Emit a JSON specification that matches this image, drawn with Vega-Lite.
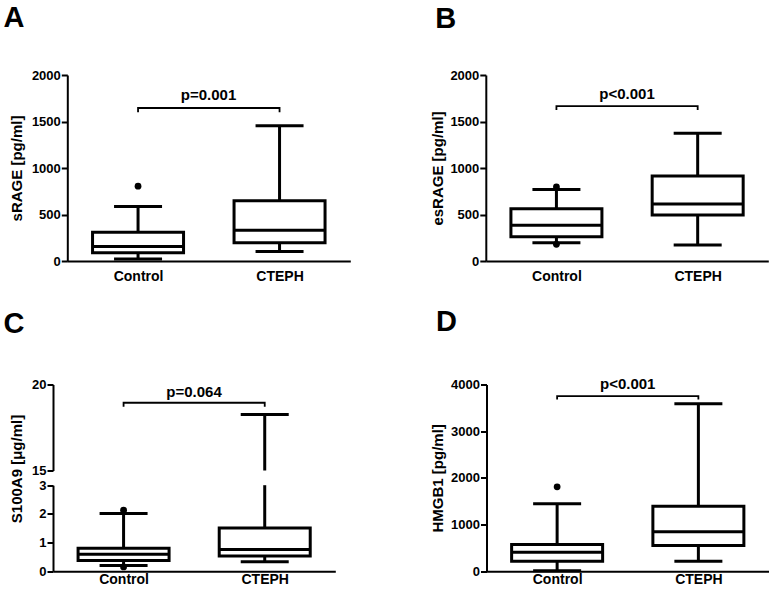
{
  "$schema": "https://vega.github.io/schema/vega-lite/v6.json",
  "padding": {"left": 3, "top": 4, "right": 0, "bottom": 0},
  "background": "white",
  "datasets": {
    "boxes": [
      {"panel": "A", "group": "Control", "lo": 21, "q1": 89, "med": 157, "q3": 310, "hi": 585},
      {"panel": "A", "group": "CTEPH", "lo": 102, "q1": 196, "med": 330, "q3": 648, "hi": 1455},
      {"panel": "B", "group": "Control", "lo": 196, "q1": 261, "med": 385, "q3": 561, "hi": 768},
      {"panel": "B", "group": "CTEPH", "lo": 171, "q1": 495, "med": 612, "q3": 913, "hi": 1373},
      {"panel": "C", "group": "Control", "lo": 0.2, "q1": 0.37, "med": 0.59, "q3": 0.8, "hi": 2.01},
      {"panel": "C", "group": "CTEPH", "lo": 0.33, "q1": 0.53, "med": 0.76, "q3": 1.51, "hi": 18.26},
      {"panel": "D", "group": "Control", "lo": 10, "q1": 214, "med": 407, "q3": 571, "hi": 1443},
      {"panel": "D", "group": "CTEPH", "lo": 214, "q1": 550, "med": 843, "q3": 1393, "hi": 3586}
    ],
    "whiskers": [
      {"panel": "A", "group": "Control", "from": 21, "to": 585},
      {"panel": "A", "group": "CTEPH", "from": 102, "to": 1455},
      {"panel": "B", "group": "Control", "from": 196, "to": 768},
      {"panel": "B", "group": "CTEPH", "from": 171, "to": 1373},
      {"panel": "C", "group": "Control", "from": 0.2, "to": 2.01},
      {"panel": "C", "group": "CTEPH", "from": 0.33, "to": 3},
      {"panel": "C", "group": "CTEPH", "from": 15, "to": 18.26},
      {"panel": "D", "group": "Control", "from": 10, "to": 1443},
      {"panel": "D", "group": "CTEPH", "from": 214, "to": 3586}
    ],
    "outliers": [
      {"panel": "A", "group": "Control", "value": 805},
      {"panel": "B", "group": "Control", "value": 796},
      {"panel": "B", "group": "Control", "value": 179},
      {"panel": "C", "group": "Control", "value": 2.13},
      {"panel": "C", "group": "Control", "value": 0.15},
      {"panel": "D", "group": "Control", "value": 1807}
    ],
    "brackets": [
      {"panel": "A", "group": "Control", "y": 1600, "ord": 1},
      {"panel": "A", "group": "Control", "y": 1645, "ord": 2},
      {"panel": "A", "group": "CTEPH", "y": 1645, "ord": 3},
      {"panel": "A", "group": "CTEPH", "y": 1600, "ord": 4},
      {"panel": "B", "group": "Control", "y": 1625, "ord": 1},
      {"panel": "B", "group": "Control", "y": 1665, "ord": 2},
      {"panel": "B", "group": "CTEPH", "y": 1665, "ord": 3},
      {"panel": "B", "group": "CTEPH", "y": 1625, "ord": 4},
      {"panel": "C", "group": "Control", "y": 18.7, "ord": 1},
      {"panel": "C", "group": "Control", "y": 18.94, "ord": 2},
      {"panel": "C", "group": "CTEPH", "y": 18.94, "ord": 3},
      {"panel": "C", "group": "CTEPH", "y": 18.7, "ord": 4},
      {"panel": "D", "group": "Control", "y": 3679, "ord": 1},
      {"panel": "D", "group": "Control", "y": 3750, "ord": 2},
      {"panel": "D", "group": "CTEPH", "y": 3750, "ord": 3},
      {"panel": "D", "group": "CTEPH", "y": 3679, "ord": 4}
    ],
    "ptext": [
      {"panel": "A", "group": "Control", "y": 1733, "label": "p=0.001"},
      {"panel": "B", "group": "Control", "y": 1740, "label": "p<0.001"},
      {"panel": "C", "group": "Control", "y": 19.3, "label": "p=0.064"},
      {"panel": "D", "group": "Control", "y": 3900, "label": "p<0.001"}
    ]
  },
  "columns": 1,
  "align": "none",
  "spacing": 24.5,
  "concat": [
    {
      "hconcat": [
        {"width": 1, "height": 1, "data": {"values": []}, "mark": {"type": "point", "opacity": 0}},
        {
          "hconcat": [
            {
              "width": 283, "height": 186,
              "title": {"text": "A", "anchor": "start", "frame": "group", "dx": -63.7, "offset": 13, "baseline": "alphabetic", "fontSize": 29, "fontWeight": "bold", "color": "black"},
              "encoding": {"x": {"field": "group", "type": "nominal", "sort": ["Control", "CTEPH"], "scale": {"type": "point", "padding": 0.5}, "axis": {"title": null, "labelPadding": 8}}},
              "layer": [
                {"data": {"name": "whiskers"}, "transform": [{"filter": "datum.panel == 'A'"}], "mark": {"type": "rule", "strokeWidth": 3, "color": "black"},
                 "encoding": {"y": {"field": "from", "type": "quantitative", "title": "sRAGE [pg/ml]", "scale": {"domain": [0, 2000], "nice": false}, "axis": {"values": [0, 500, 1000, 1500, 2000], "format": "d", "titleX": -46.3}}, "y2": {"field": "to"}}},
                {"data": {"name": "boxes"}, "transform": [{"filter": "datum.panel == 'A'"}], "mark": {"type": "bar", "width": 91, "fill": "white", "stroke": "black", "strokeWidth": 3},
                 "encoding": {"y": {"field": "q1", "type": "quantitative", "title": "sRAGE [pg/ml]"}, "y2": {"field": "q3"}}},
                {"data": {"name": "boxes"}, "transform": [{"filter": "datum.panel == 'A'"}], "mark": {"type": "tick", "size": 91, "thickness": 3, "color": "black", "opacity": 1},
                 "encoding": {"y": {"field": "med", "type": "quantitative", "title": "sRAGE [pg/ml]"}}},
                {"data": {"name": "boxes"}, "transform": [{"filter": "datum.panel == 'A'"}], "mark": {"type": "tick", "size": 48, "thickness": 3, "color": "black", "opacity": 1},
                 "encoding": {"y": {"field": "lo", "type": "quantitative", "title": "sRAGE [pg/ml]"}}},
                {"data": {"name": "boxes"}, "transform": [{"filter": "datum.panel == 'A'"}], "mark": {"type": "tick", "size": 48, "thickness": 3, "color": "black", "opacity": 1},
                 "encoding": {"y": {"field": "hi", "type": "quantitative", "title": "sRAGE [pg/ml]"}}},
                {"data": {"name": "outliers"}, "transform": [{"filter": "datum.panel == 'A'"}], "mark": {"type": "point", "filled": true, "size": 46, "color": "black", "opacity": 1},
                 "encoding": {"y": {"field": "value", "type": "quantitative", "title": "sRAGE [pg/ml]"}}},
                {"data": {"name": "brackets"}, "transform": [{"filter": "datum.panel == 'A'"}], "mark": {"type": "line", "strokeWidth": 1.8, "color": "black"},
                 "encoding": {"y": {"field": "y", "type": "quantitative", "title": "sRAGE [pg/ml]"}, "order": {"field": "ord", "type": "quantitative"}}},
                {"data": {"name": "ptext"}, "transform": [{"filter": "datum.panel == 'A'"}], "mark": {"type": "text", "dx": 70.5, "align": "center", "baseline": "alphabetic", "fontSize": 15, "fontWeight": "bold", "color": "black"},
                 "encoding": {"y": {"field": "y", "type": "quantitative", "title": "sRAGE [pg/ml]"}, "text": {"field": "label"}}}
              ]
            },
            {
              "width": 282.5, "height": 186,
              "title": {"text": "B", "anchor": "start", "frame": "group", "dx": -50.5, "offset": 12.3, "baseline": "alphabetic", "fontSize": 29, "fontWeight": "bold", "color": "black"},
              "encoding": {"x": {"field": "group", "type": "nominal", "sort": ["Control", "CTEPH"], "scale": {"type": "point", "padding": 0.5}, "axis": {"title": null, "labelPadding": 8}}},
              "layer": [
                {"data": {"name": "whiskers"}, "transform": [{"filter": "datum.panel == 'B'"}], "mark": {"type": "rule", "strokeWidth": 3, "color": "black"},
                 "encoding": {"y": {"field": "from", "type": "quantitative", "title": "esRAGE [pg/ml]", "scale": {"domain": [0, 2000], "nice": false}, "axis": {"values": [0, 500, 1000, 1500, 2000], "format": "d", "titleX": -43.2}}, "y2": {"field": "to"}}},
                {"data": {"name": "boxes"}, "transform": [{"filter": "datum.panel == 'B'"}], "mark": {"type": "bar", "width": 91, "fill": "white", "stroke": "black", "strokeWidth": 3},
                 "encoding": {"y": {"field": "q1", "type": "quantitative", "title": "esRAGE [pg/ml]"}, "y2": {"field": "q3"}}},
                {"data": {"name": "boxes"}, "transform": [{"filter": "datum.panel == 'B'"}], "mark": {"type": "tick", "size": 91, "thickness": 3, "color": "black", "opacity": 1},
                 "encoding": {"y": {"field": "med", "type": "quantitative", "title": "esRAGE [pg/ml]"}}},
                {"data": {"name": "boxes"}, "transform": [{"filter": "datum.panel == 'B'"}], "mark": {"type": "tick", "size": 48, "thickness": 3, "color": "black", "opacity": 1},
                 "encoding": {"y": {"field": "lo", "type": "quantitative", "title": "esRAGE [pg/ml]"}}},
                {"data": {"name": "boxes"}, "transform": [{"filter": "datum.panel == 'B'"}], "mark": {"type": "tick", "size": 48, "thickness": 3, "color": "black", "opacity": 1},
                 "encoding": {"y": {"field": "hi", "type": "quantitative", "title": "esRAGE [pg/ml]"}}},
                {"data": {"name": "outliers"}, "transform": [{"filter": "datum.panel == 'B'"}], "mark": {"type": "point", "filled": true, "size": 46, "color": "black", "opacity": 1},
                 "encoding": {"y": {"field": "value", "type": "quantitative", "title": "esRAGE [pg/ml]"}}},
                {"data": {"name": "brackets"}, "transform": [{"filter": "datum.panel == 'B'"}], "mark": {"type": "line", "strokeWidth": 1.8, "color": "black"},
                 "encoding": {"y": {"field": "y", "type": "quantitative", "title": "esRAGE [pg/ml]"}, "order": {"field": "ord", "type": "quantitative"}}},
                {"data": {"name": "ptext"}, "transform": [{"filter": "datum.panel == 'B'"}], "mark": {"type": "text", "dx": 70.6, "align": "center", "baseline": "alphabetic", "fontSize": 15, "fontWeight": "bold", "color": "black"},
                 "encoding": {"y": {"field": "y", "type": "quantitative", "title": "esRAGE [pg/ml]"}, "text": {"field": "label"}}}
              ]
            }
          ],
          "spacing": 135.5,
          "bounds": "flush"
        }
      ],
      "spacing": 13.3,
      "bounds": "flush"
    },
    {
      "hconcat": [
        {
          "width": 282.3, "height": 186.7,
          "title": {"text": "C", "anchor": "start", "frame": "group", "dx": -49.4, "offset": 16.7, "baseline": "alphabetic", "fontSize": 29, "fontWeight": "bold", "color": "black"},
          "encoding": {"x": {"field": "group", "type": "nominal", "sort": ["Control", "CTEPH"], "scale": {"type": "point", "padding": 0.5}, "axis": {"title": null, "labelPadding": 1}}},
          "layer": [
            {
              "layer": [
                {"data": {"name": "whiskers"}, "transform": [{"filter": "datum.panel == 'C' && datum.to <= 3"}], "mark": {"type": "rule", "strokeWidth": 3, "color": "black"},
                 "encoding": {"y": {"field": "from", "type": "quantitative", "title": "S100A9 [μg/ml]", "scale": {"domain": [0, 3], "range": [186.7, 100.7], "nice": false}, "axis": {"values": [0, 1, 2, 3], "format": "d", "titleX": -32, "titleY": 84}}, "y2": {"field": "to"}}},
                {"data": {"name": "boxes"}, "transform": [{"filter": "datum.panel == 'C'"}], "mark": {"type": "bar", "width": 91, "fill": "white", "stroke": "black", "strokeWidth": 3},
                 "encoding": {"y": {"field": "q1", "type": "quantitative", "title": "S100A9 [μg/ml]"}, "y2": {"field": "q3"}}},
                {"data": {"name": "boxes"}, "transform": [{"filter": "datum.panel == 'C'"}], "mark": {"type": "tick", "size": 91, "thickness": 3, "color": "black", "opacity": 1},
                 "encoding": {"y": {"field": "med", "type": "quantitative", "title": "S100A9 [μg/ml]"}}},
                {"data": {"name": "boxes"}, "transform": [{"filter": "datum.panel == 'C'"}], "mark": {"type": "tick", "size": 48, "thickness": 3, "color": "black", "opacity": 1},
                 "encoding": {"y": {"field": "lo", "type": "quantitative", "title": "S100A9 [μg/ml]"}}},
                {"data": {"name": "boxes"}, "transform": [{"filter": "datum.panel == 'C' && datum.hi <= 3"}], "mark": {"type": "tick", "size": 48, "thickness": 3, "color": "black", "opacity": 1},
                 "encoding": {"y": {"field": "hi", "type": "quantitative", "title": "S100A9 [μg/ml]"}}},
                {"data": {"name": "outliers"}, "transform": [{"filter": "datum.panel == 'C'"}], "mark": {"type": "point", "filled": true, "size": 46, "color": "black", "opacity": 1},
                 "encoding": {"y": {"field": "value", "type": "quantitative", "title": "S100A9 [μg/ml]"}}}
              ]
            },
            {
              "layer": [
                {"data": {"name": "whiskers"}, "transform": [{"filter": "datum.panel == 'C' && datum.from >= 15"}], "mark": {"type": "rule", "strokeWidth": 3, "color": "black"},
                 "encoding": {"y": {"field": "from", "type": "quantitative", "title": null, "scale": {"domain": [15, 20], "range": [86, 0], "nice": false}, "axis": {"orient": "left", "values": [15, 20], "format": "d", "title": null}}, "y2": {"field": "to"}}},
                {"data": {"name": "boxes"}, "transform": [{"filter": "datum.panel == 'C' && datum.hi >= 15"}], "mark": {"type": "tick", "size": 48, "thickness": 3, "color": "black", "opacity": 1},
                 "encoding": {"y": {"field": "hi", "type": "quantitative", "title": null}}},
                {"data": {"name": "brackets"}, "transform": [{"filter": "datum.panel == 'C'"}], "mark": {"type": "line", "strokeWidth": 1.8, "color": "black"},
                 "encoding": {"y": {"field": "y", "type": "quantitative", "title": null}, "order": {"field": "ord", "type": "quantitative"}}},
                {"data": {"name": "ptext"}, "transform": [{"filter": "datum.panel == 'C'"}], "mark": {"type": "text", "dx": 70.5, "align": "center", "baseline": "alphabetic", "fontSize": 15, "fontWeight": "bold", "color": "black"},
                 "encoding": {"y": {"field": "y", "type": "quantitative", "title": null}, "text": {"field": "label"}}}
              ]
            }
          ],
          "resolve": {"scale": {"y": "independent"}, "axis": {"y": "independent"}}
        },
        {
          "width": 282.5, "height": 186.7,
          "title": {"text": "D", "anchor": "start", "frame": "group", "dx": -50.5, "offset": 16.7, "baseline": "alphabetic", "fontSize": 29, "fontWeight": "bold", "color": "black"},
          "encoding": {"x": {"field": "group", "type": "nominal", "sort": ["Control", "CTEPH"], "scale": {"type": "point", "padding": 0.5}, "axis": {"title": null, "labelPadding": 1}}},
          "layer": [
            {"data": {"name": "whiskers"}, "transform": [{"filter": "datum.panel == 'D'"}], "mark": {"type": "rule", "strokeWidth": 3, "color": "black"},
             "encoding": {"y": {"field": "from", "type": "quantitative", "title": "HMGB1 [pg/ml]", "scale": {"domain": [0, 4000], "nice": false}, "axis": {"values": [0, 1000, 2000, 3000, 4000], "format": "d", "titleX": -43.8}}, "y2": {"field": "to"}}},
            {"data": {"name": "boxes"}, "transform": [{"filter": "datum.panel == 'D'"}], "mark": {"type": "bar", "width": 91, "fill": "white", "stroke": "black", "strokeWidth": 3},
             "encoding": {"y": {"field": "q1", "type": "quantitative", "title": "HMGB1 [pg/ml]"}, "y2": {"field": "q3"}}},
            {"data": {"name": "boxes"}, "transform": [{"filter": "datum.panel == 'D'"}], "mark": {"type": "tick", "size": 91, "thickness": 3, "color": "black", "opacity": 1},
             "encoding": {"y": {"field": "med", "type": "quantitative", "title": "HMGB1 [pg/ml]"}}},
            {"data": {"name": "boxes"}, "transform": [{"filter": "datum.panel == 'D'"}], "mark": {"type": "tick", "size": 48, "thickness": 3, "color": "black", "opacity": 1},
             "encoding": {"y": {"field": "lo", "type": "quantitative", "title": "HMGB1 [pg/ml]"}}},
            {"data": {"name": "boxes"}, "transform": [{"filter": "datum.panel == 'D'"}], "mark": {"type": "tick", "size": 48, "thickness": 3, "color": "black", "opacity": 1},
             "encoding": {"y": {"field": "hi", "type": "quantitative", "title": "HMGB1 [pg/ml]"}}},
            {"data": {"name": "outliers"}, "transform": [{"filter": "datum.panel == 'D'"}], "mark": {"type": "point", "filled": true, "size": 46, "color": "black", "opacity": 1},
             "encoding": {"y": {"field": "value", "type": "quantitative", "title": "HMGB1 [pg/ml]"}}},
            {"data": {"name": "brackets"}, "transform": [{"filter": "datum.panel == 'D'"}], "mark": {"type": "line", "strokeWidth": 1.8, "color": "black"},
             "encoding": {"y": {"field": "y", "type": "quantitative", "title": "HMGB1 [pg/ml]"}, "order": {"field": "ord", "type": "quantitative"}}},
            {"data": {"name": "ptext"}, "transform": [{"filter": "datum.panel == 'D'"}], "mark": {"type": "text", "dx": 70.6, "align": "center", "baseline": "alphabetic", "fontSize": 15, "fontWeight": "bold", "color": "black"},
             "encoding": {"y": {"field": "y", "type": "quantitative", "title": "HMGB1 [pg/ml]"}, "text": {"field": "label"}}}
          ]
        }
      ],
      "spacing": 150.5,
      "bounds": "flush"
    }
  ],
  "config": {
    "font": "Liberation Sans",
    "view": {"stroke": null},
    "axis": {"domainColor": "black", "domainWidth": 2, "tickColor": "black", "tickWidth": 2, "grid": false, "labelFont": "Liberation Sans", "labelFontWeight": "bold", "labelColor": "black", "titleFont": "Liberation Sans", "titleFontWeight": "bold", "titleColor": "black"},
    "axisY": {"tickSize": 6, "labelPadding": 1, "labelFontSize": 13, "titleFontSize": 15, "titleBaseline": "alphabetic"},
    "axisX": {"ticks": false, "labelFontSize": 14, "labelAngle": 0, "labelBaseline": "top"}
  }
}
